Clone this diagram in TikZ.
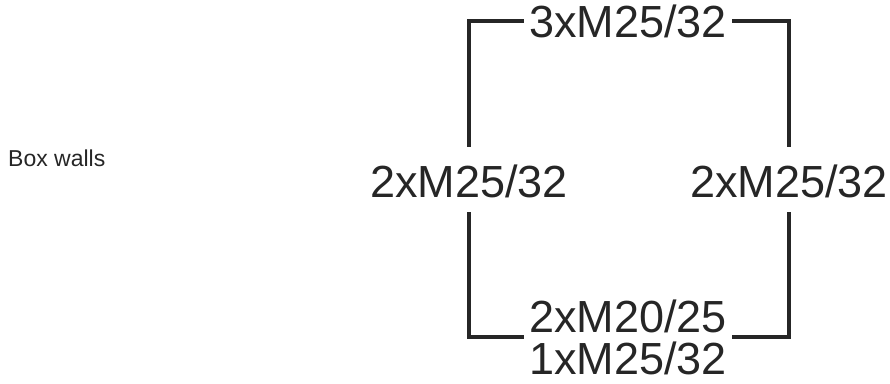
\documentclass[tikz,border=0pt]{standalone}
\usepackage{fontspec}
\setmainfont{Liberation Sans}
\usepackage{tikz}
\usetikzlibrary{positioning}

\begin{document}
\begin{tikzpicture}[x=1pt, y=-1pt, every node/.style={font=\fontsize{45}{42}\selectfont, text=black!85, inner sep=0pt, inner xsep=5pt}]
\useasboundingbox (0,0) rectangle (890,383);
\tikzset{wall/.style={line width=4pt, draw=black!85}}
\node[anchor=base west, font=\fontsize{23}{26}\selectfont, inner xsep=0pt] (title) at (8,166) {Box walls};
\node (top) at (628,21) {3xM25/32};
\node (left) at (469,181) {2xM25/32};
\node (right) at (789,181) {2xM25/32};
\node[align=center] (bottom) at (628,337) {2xM20/25\\1xM25/32};
\coordinate (lu) at (469,147);
\coordinate (ru) at (789,147);
\coordinate (ld) at (469,212);
\coordinate (rd) at (789,212);
\draw[wall] (top) -| (lu);
\draw[wall] (top) -| (ru);
\draw[wall] (bottom) -| (ld);
\draw[wall] (bottom) -| (rd);
\end{tikzpicture}
\end{document}
